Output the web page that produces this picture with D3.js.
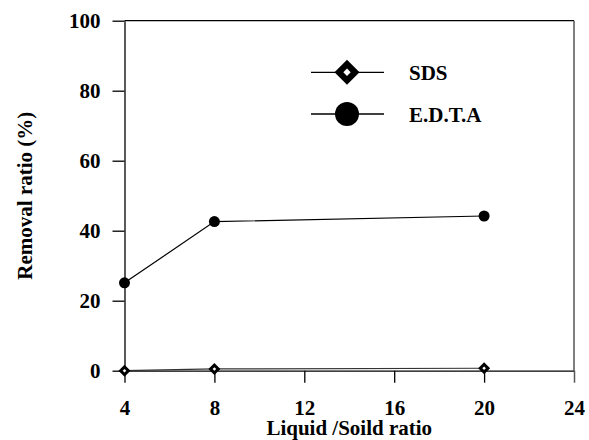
<!DOCTYPE html>
<html><head><meta charset="utf-8">
<script src="https://cdn.jsdelivr.net/npm/d3@7"></script>
<style>
html,body{margin:0;padding:0;background:#fff;}
svg{display:block;}
text{font-family:"Liberation Serif","Times New Roman",serif;font-weight:bold;fill:#000;}
</style></head>
<body>
<svg id="chart" width="589" height="440"></svg>
<script>
const xValues = [4, 8, 20];
const sdsValues = [0.0, 0.5, 0.7];
const edtaValues = [25.1, 42.6, 44.2];
const xTicks = [4, 8, 12, 16, 20, 24];
const yTicks = [0, 20, 40, 60, 80, 100];
const seriesNames = ["SDS", "E.D.T.A"];
const xTitle = "Liquid /Soild ratio";
const yTitle = "Removal ratio (%)";

(function () {
const svg = d3.select("#chart");
const pLeft = 124.5, pRight = 574, pTop = 20.7, pBottom = 370.7;
const x = d3.scaleLinear().domain([4, 24]).range([pLeft, pRight]);
const y = d3.scaleLinear().domain([0, 100]).range([pBottom, pTop]);

// frame top & right
svg.append("line").attr("x1", pLeft).attr("x2", pRight).attr("y1", pTop).attr("y2", pTop)
  .attr("stroke", "#000").attr("stroke-width", 1.3);
svg.append("line").attr("x1", pRight).attr("x2", pRight).attr("y1", pTop).attr("y2", pBottom)
  .attr("stroke", "#555").attr("stroke-width", 1.5);

// axes
const xAxis = svg.append("g").attr("transform", `translate(0,${pBottom})`)
  .call(d3.axisBottom(x).tickValues(xTicks).tickSize(12).tickSizeOuter(0).tickPadding(17.5));
const yAxis = svg.append("g").attr("transform", `translate(${pLeft},0)`)
  .call(d3.axisLeft(y).tickValues(yTicks).tickSize(12).tickSizeOuter(0).tickPadding(12));
[xAxis, yAxis].forEach(g => {
  g.selectAll("path").attr("stroke", "#000").attr("stroke-width", 1.3);
  g.selectAll("line").attr("stroke", "#000").attr("stroke-width", 1.3);
  g.selectAll("text").style("font-size", "21px").style("font-family", '"Liberation Serif","Times New Roman",serif').style("font-weight", "bold").attr("fill", "#000");
});
xAxis.selectAll(".tick").filter(d => d === 24).select("line").attr("stroke", "#555").attr("stroke-width", 1.5);

// titles
svg.append("text").attr("x", (pLeft + pRight) / 2).attr("y", 435).attr("text-anchor", "middle")
  .style("font-size", "21px").text(xTitle);
svg.append("text").attr("transform", `translate(32,${(pTop + pBottom) / 2}) rotate(-90)`)
  .attr("text-anchor", "middle").style("font-size", "21px").text(yTitle);

const line = d3.line().x(d => x(d[0])).y(d => y(d[1]));
const sdsData = xValues.map((v, i) => [v, sdsValues[i]]);
const edtaData = xValues.map((v, i) => [v, edtaValues[i]]);

svg.append("path").datum(sdsData).attr("d", line).attr("fill", "none")
  .attr("stroke", "#333").attr("stroke-width", 1.2);
svg.append("path").datum(edtaData).attr("d", line).attr("fill", "none")
  .attr("stroke", "#000").attr("stroke-width", 1.2);

function diamond(g, cx, cy, outer, inner) {
  g.append("path").attr("d", `M${cx},${cy - outer}L${cx + outer},${cy}L${cx},${cy + outer}L${cx - outer},${cy}Z`).attr("fill", "#000");
  g.append("path").attr("d", `M${cx},${cy - inner}L${cx + inner},${cy}L${cx},${cy + inner}L${cx - inner},${cy}Z`).attr("fill", "#fff");
}
const mk = svg.append("g");
sdsData.forEach(d => diamond(mk, x(d[0]), y(d[1]), 6, 1.8));
mk.selectAll("circle").data(edtaData).enter().append("circle")
  .attr("cx", d => x(d[0])).attr("cy", d => y(d[1])).attr("r", 5.5).attr("fill", "#000");

// legend
const lg = svg.append("g");
const legY = [72.3, 114];
const lx1 = 311, lx2 = 384, lcx = 347;
legY.forEach((ly, i) => {
  lg.append("line").attr("x1", lx1).attr("x2", lx2).attr("y1", ly).attr("y2", ly)
    .attr("stroke", "#000").attr("stroke-width", 1.3);
  if (i === 0) diamond(lg, lcx, ly, 12.5, 3.7);
  else lg.append("circle").attr("cx", lcx).attr("cy", ly).attr("r", 12).attr("fill", "#000");
  lg.append("text").attr("x", 409).attr("y", ly + 7.5).style("font-size", "21px").text(seriesNames[i]);
});
})();
</script>
</body></html>
